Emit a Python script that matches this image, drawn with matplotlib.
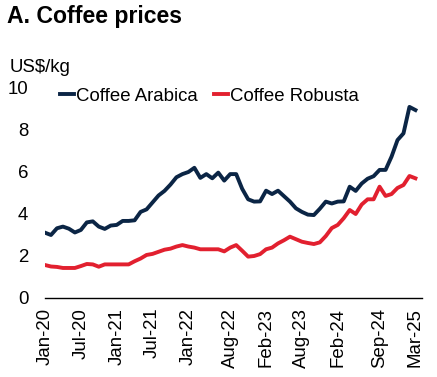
# Coffee prices chart

import matplotlib
matplotlib.use("Agg")
import matplotlib.pyplot as plt

months = ["Jan-20", "Feb-20", "Mar-20", "Apr-20", "May-20", "Jun-20", "Jul-20", "Aug-20",
          "Sep-20", "Oct-20", "Nov-20", "Dec-20",
          "Jan-21", "Feb-21", "Mar-21", "Apr-21", "May-21", "Jun-21", "Jul-21", "Aug-21",
          "Sep-21", "Oct-21", "Nov-21", "Dec-21",
          "Jan-22", "Feb-22", "Mar-22", "Apr-22", "May-22", "Jun-22", "Jul-22", "Aug-22",
          "Sep-22", "Oct-22", "Nov-22", "Dec-22",
          "Jan-23", "Feb-23", "Mar-23", "Apr-23", "May-23", "Jun-23", "Jul-23", "Aug-23",
          "Sep-23", "Oct-23", "Nov-23", "Dec-23",
          "Jan-24", "Feb-24", "Mar-24", "Apr-24", "May-24", "Jun-24", "Jul-24", "Aug-24",
          "Sep-24", "Oct-24", "Nov-24", "Dec-24",
          "Jan-25", "Feb-25", "Mar-25"]

arabica = [3.11, 3.00, 3.32, 3.40, 3.30, 3.12, 3.24, 3.60, 3.65, 3.40, 3.29, 3.45,
           3.48, 3.67, 3.67, 3.70, 4.10, 4.22, 4.55, 4.88, 5.10, 5.40, 5.75, 5.90,
           6.00, 6.20, 5.72, 5.90, 5.70, 5.97, 5.59, 5.90, 5.90, 5.20, 4.70, 4.59,
           4.60, 5.11, 4.95, 5.11, 4.85, 4.59, 4.27, 4.10, 3.97, 3.95, 4.25, 4.59,
           4.50, 4.59, 4.60, 5.30, 5.10, 5.45, 5.68, 5.80, 6.10, 6.10, 6.73, 7.52,
           7.84, 9.10, 8.95]

robusta = [1.57, 1.50, 1.48, 1.43, 1.43, 1.43, 1.52, 1.62, 1.60, 1.49, 1.60, 1.60,
           1.60, 1.60, 1.60, 1.75, 1.88, 2.05, 2.10, 2.20, 2.30, 2.35, 2.45, 2.52,
           2.45, 2.40, 2.32, 2.32, 2.32, 2.32, 2.22, 2.40, 2.52, 2.25, 1.97, 2.00,
           2.09, 2.32, 2.40, 2.60, 2.75, 2.92, 2.80, 2.68, 2.62, 2.57, 2.65, 2.95,
           3.33, 3.48, 3.80, 4.19, 4.00, 4.45, 4.70, 4.70, 5.30, 4.86, 4.95, 5.24,
           5.38, 5.81, 5.70]

tick_labels = ["Jan-20", "Jul-20", "Jan-21", "Jul-21", "Jan-22", "Aug-22",
               "Feb-23", "Aug-23", "Feb-24", "Sep-24", "Mar-25"]

plt.rcParams['font.family'] = ['Liberation Sans', 'DejaVu Sans']

W, H = 437, 377
fig = plt.figure(figsize=(W / 100, H / 100), dpi=100)
ax = fig.add_axes([45 / W, 1 - 298 / H, 377 / W, 210 / H])

x = list(range(len(months)))
ax.plot(x, arabica, color="#0b2545", lw=2.8, label="Coffee Arabica", solid_joinstyle="round")
ax.plot(x, robusta, color="#e2202f", lw=2.8, label="Coffee Robusta", solid_joinstyle="round")

ax.set_xlim(0, 63.1)
ax.set_ylim(0, 10)
ax.set_yticks([0, 2, 4, 6, 8, 10])
ax.set_xticks([months.index(m) for m in tick_labels])
ax.set_xticklabels(tick_labels, rotation=90)
ax.tick_params(axis="both", length=0, labelsize=13.4, colors="black")
ax.tick_params(axis="y", pad=12)
ax.tick_params(axis="x", pad=7)

for s in ["top", "right", "left"]:
    ax.spines[s].set_visible(False)
ax.spines["bottom"].set_linewidth(1.0)
ax.spines["bottom"].set_color("black")

fig.legend(loc="center left", bbox_to_anchor=(60 / W, 1 - 96 / H), ncol=2,
           frameon=False, fontsize=13.4, handlelength=0.75, handletextpad=0.1,
           columnspacing=0.9, borderpad=0, borderaxespad=0)

fig.text(10 / W, 1 - 68 / H, "US$/kg", fontsize=13.4, va="center", ha="left")
fig.text(7 / W, 1 - 17 / H, "A. Coffee prices", fontsize=16.6, fontweight="bold",
         va="center", ha="left")

fig.savefig("out.png", dpi=100)
